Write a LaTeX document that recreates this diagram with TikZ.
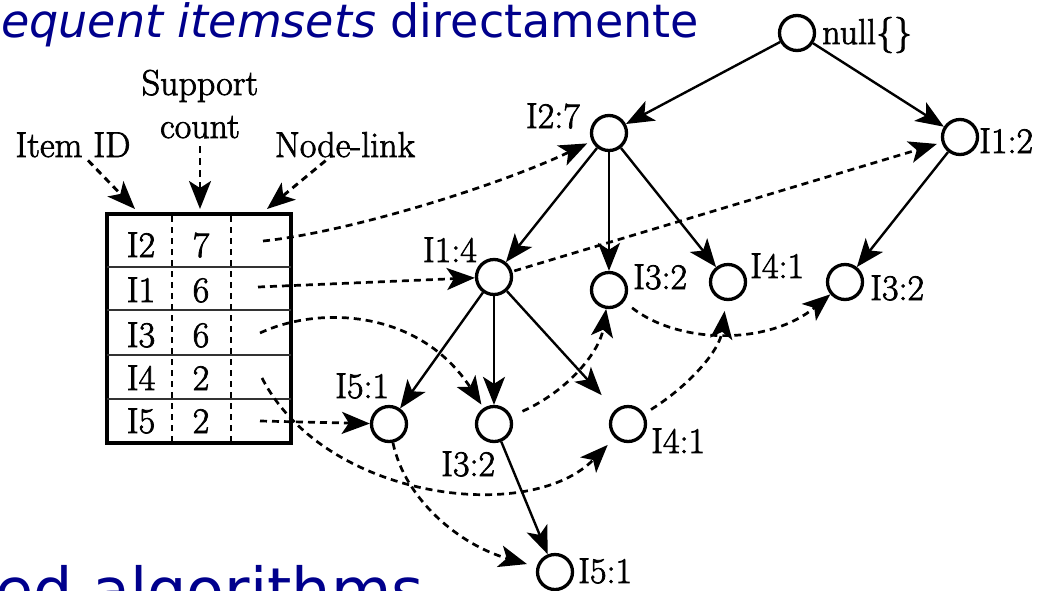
\documentclass[tikz,border=0pt]{standalone}
\usepackage{fontspec}
\usetikzlibrary{arrows.meta,calc}
\newfontfamily\titlefont{DejaVu Sans}
\newfontfamily\labfont{Latin Modern Roman}[FakeBold=2]
\definecolor{navy}{RGB}{0,0,140}
\begin{document}
\begin{tikzpicture}[x=1pt,y=-1pt,
  tn/.style={circle,draw,line width=3.3pt,minimum size=35pt,inner sep=0pt},
  lab/.style={font=\labfont\fontsize{36}{40}\selectfont,inner sep=0pt},
  tip/.style={-{Stealth[length=28pt,width=22pt,inset=7pt]}},
  tedge/.style={tip,line width=2.4pt},
  link/.style={tip,line width=2.7pt,dash pattern=on 7pt off 5pt},
  hdr/.style={tip,line width=2.9pt,dash pattern=on 7pt off 5pt},
  rowline/.style={line width=2.6pt,black!80},
  coldash/.style={line width=2.2pt,dash pattern=on 6pt off 5pt},
  title/.style={anchor=base west,inner sep=0pt,text=navy}
]
\path[use as bounding box,clip] (0,0) rectangle (1055,590);

% titles
\node[title,font=\titlefont\fontsize{46}{50}\selectfont] (ttl) at (1,37) {{\itshape equent itemsets} directamente};
\node[title,font=\titlefont\fontsize{62}{66}\selectfont] (btm) at (-5,612) {ed algorithms};

% header table
\node[draw,line width=3.8pt,minimum width=184pt,minimum height=229pt,inner sep=0pt] (tbl) at (199,328.5) {};
\draw[rowline] (107,267) -- (291,267);
\draw[rowline] (107,310) -- (291,310);
\draw[rowline] (107,355) -- (291,355);
\draw[rowline] (107,399) -- (291,399);
\draw[coldash] (172,216) -- (172,441);
\draw[coldash] (231,216) -- (231,441);

\node[lab,anchor=base] (i1) at (141,257) {I2};
\node[lab,anchor=base] (i2) at (141,302) {I1};
\node[lab,anchor=base] (i3) at (141,347) {I3};
\node[lab,anchor=base] (i4) at (141,390) {I4};
\node[lab,anchor=base] (i5) at (141,433) {I5};
\node[lab,anchor=base] (n1) at (201,257) {7};
\node[lab,anchor=base] (n2) at (201,302) {6};
\node[lab,anchor=base] (n3) at (201,347) {6};
\node[lab,anchor=base] (n4) at (201,390) {2};
\node[lab,anchor=base] (n5) at (201,433) {2};

% header labels
\node[lab,anchor=base] (sup) at (200,95) {Support};
\node[lab,anchor=base] (cnt) at (200,138) {count};
\node[lab,anchor=base] (iid) at (73,157) {Item ID};
\node[lab,anchor=base] (nlk) at (345,157) {Node-link};
\coordinate (hID) at (135,209);
\coordinate (hSC) at (200,209);
\coordinate (hNL) at (267,209);
\draw[hdr,shorten <=4pt] (iid) -- (hID);
\draw[hdr,shorten <=8pt] (cnt) -- (hSC);
\draw[hdr,shorten <=5pt] (nlk) -- (hNL);

% tree nodes
\node[tn] (null) at (797,33) {};
\node[tn] (I27) at (609,133) {};
\node[tn] (I12) at (960,137) {};
\node[tn] (I14) at (494,277) {};
\node[tn] (I32m) at (609,290) {};
\node[tn] (I41u) at (728,282) {};
\node[tn] (I32r) at (845,282) {};
\node[tn] (I51a) at (389,424) {};
\node[tn] (I32b) at (494,424) {};
\node[tn] (I41b) at (628,424) {};
\node[tn] (I51b) at (555,572) {};

% tree labels
\node[lab,anchor=base west] (Lnull) at (822,44) {null\{\}};
\node[lab,anchor=base east] (L27) at (580,128) {I2:7};
\node[lab,anchor=base west] (L12) at (979,153) {I1:2};
\node[lab,anchor=base east] (L14) at (477,262) {I1:4};
\node[lab,anchor=base west] (L32m) at (633,289) {I3:2};
\node[lab,anchor=base west] (L41u) at (750,278) {I4:1};
\node[lab,anchor=base west] (L32r) at (870,300) {I3:2};
\node[lab,anchor=base west] (L51a) at (335,398) {I5:1};
\node[lab,anchor=base west] (L32b) at (441,476) {I3:2};
\node[lab,anchor=base west] (L41b) at (651,453) {I4:1};
\node[lab,anchor=base west] (L51b) at (578,583) {I5:1};

% tree edges
\draw[tedge] (null) -- (I27);
\draw[tedge] (null) -- (I12);
\draw[tedge] (I27) -- (I14);
\draw[tedge] (I27) -- (I32m);
\draw[tedge] (I27) -- (I41u);
\draw[tedge] (I12) -- (I32r);
\draw[tedge] (I14) -- (I51a);
\draw[tedge] (I14) -- (I32b);
\draw[tedge,shorten >=20pt] (I14) -- (I41b);
\draw[tedge] (I32b) -- (I51b);

% node-links from table
\coordinate (r1) at (263,241);
\coordinate (r2) at (258,287);
\coordinate (r3) at (260,333);
\coordinate (r4) at (262,378);
\coordinate (r5) at (260,421);
\draw[link,shorten >=5pt] (r1) .. controls (350,232) and (500,185) .. (I27);
\draw[link] (r2) -- (I14);
\draw[link,shorten >=4pt] (r3) .. controls (320,305) and (420,310) .. (I32b);
\draw[link,shorten >=10pt] (r4) .. controls (325,500) and (530,525) .. (I41b);
\draw[link] (r5) -- (I51a);

% node-links in tree
\draw[link,shorten <=2pt,shorten >=5pt] (I14) -- (I12);
\draw[link,shorten <=12pt] (I32b) .. controls (570,390) and (600,350) .. (I32m);
\draw[link,shorten <=10pt] (I32m) .. controls (680,345) and (770,345) .. (I32r);
\draw[link,shorten <=8pt,shorten >=10pt] (I41b) .. controls (690,385) and (720,350) .. (I41u);
\draw[link,shorten >=10pt] (I51a) .. controls (405,500) and (460,545) .. (I51b);
\end{tikzpicture}
\end{document}
